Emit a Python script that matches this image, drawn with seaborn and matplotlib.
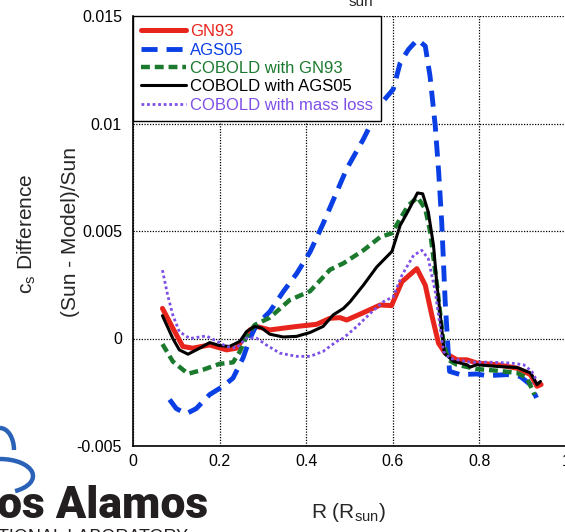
import numpy as np
import pandas as pd
import matplotlib
matplotlib.use("Agg")
import matplotlib.pyplot as plt
from matplotlib.patches import Arc
import seaborn as sns

# ---------------- data ----------------
r_gn93 = [0.068, 0.092, 0.115, 0.138, 0.177, 0.216, 0.239, 0.270, 0.285, 0.316,
          0.378, 0.424, 0.455, 0.478, 0.4935, 0.532, 0.571, 0.597, 0.621, 0.6556,
          0.675, 0.690, 0.7056, 0.721, 0.748, 0.771, 0.794, 0.841, 0.887, 0.918,
          0.933, 0.9425]
cs_gn93 = [0.0014, 0.00048, -0.00037, -0.00045, -0.0003, -0.00053, -0.00045, 0.0004, 0.00056, 0.0004,
           0.00056, 0.00066, 0.00094, 0.00097, 0.00086, 0.0012, 0.00156, 0.00153, 0.00264, 0.00325,
           0.00248, 0.00109, -0.00022, -0.00068, -0.00099, -0.00099, -0.00114, -0.00122, -0.00138, -0.00168,
           -0.00222, -0.00214]

r_ags05 = [0.0845, 0.0999, 0.123, 0.146, 0.177, 0.208, 0.231, 0.254, 0.270, 0.285,
           0.316, 0.347, 0.378, 0.409, 0.439, 0.4935, 0.532, 0.555, 0.578, 0.601,
           0.617, 0.636, 0.657, 0.675, 0.686, 0.698, 0.706, 0.713, 0.721, 0.727,
           0.731, 0.756, 0.794, 0.817, 0.864, 0.894, 0.918, 0.932]
cs_ags05 = [-0.00284, -0.00326, -0.0035, -0.00326, -0.00261, -0.00222, -0.00184, -0.00091, 0.0, 0.00063,
            0.00125, 0.00218, 0.00302, 0.00403, 0.00534, 0.00789, 0.00927, 0.0102, 0.01105, 0.01159,
            0.01282, 0.01344, 0.0139, 0.0136, 0.0122, 0.00989, 0.00773, 0.0054, 0.00171, -0.0003,
            -0.00153, -0.00168, -0.00165, -0.00173, -0.00168, -0.00176, -0.00215, -0.00276]

r_cob_gn93 = [0.068, 0.092, 0.127, 0.162, 0.200, 0.231, 0.247, 0.262, 0.281, 0.316,
              0.362, 0.409, 0.455, 0.486, 0.532, 0.571, 0.598, 0.617, 0.636, 0.657,
              0.675, 0.686, 0.702, 0.717, 0.728, 0.748, 0.794, 0.841, 0.887, 0.910,
              0.927]
cs_cob_gn93 = [-0.00026, -0.00107, -0.00164, -0.00145, -0.00118, -0.00111, -0.0006, 0.00008, 0.00063, 0.00097,
               0.00179, 0.0022, 0.0032, 0.0035, 0.0041, 0.00472, 0.0049, 0.00557, 0.00619, 0.00657,
               0.00603, 0.0050, 0.00248, -0.00019, -0.00099, -0.00122, -0.00142, -0.0015, -0.0016, -0.00184,
               -0.00261]

r_cob_ags05 = [0.068, 0.092, 0.107, 0.127, 0.154, 0.177, 0.200, 0.223, 0.247, 0.262,
               0.281, 0.297, 0.316, 0.347, 0.378, 0.409, 0.439, 0.4625, 0.486, 0.501,
               0.532, 0.563, 0.598, 0.617, 0.636, 0.657, 0.669, 0.682, 0.694, 0.702,
               0.713, 0.719, 0.740, 0.771, 0.779, 0.794, 0.841, 0.887, 0.918, 0.933,
               0.941]
cs_cob_ags05 = [0.00106, 0.0, -0.00053, -0.00073, -0.00045, -0.00019, -0.00033, -0.00037, -0.00013, 0.00032,
                0.00056, 0.00049, 0.0002, 0.00007, 0.0001, 0.00028, 0.00056, 0.0011, 0.0014, 0.0017,
                0.00248, 0.00333, 0.00405, 0.00526, 0.00595, 0.00677, 0.00673, 0.00588, 0.00433, 0.00248,
                0.00048, -0.00068, -0.00106, -0.00122, -0.00133, -0.00122, -0.0013, -0.00135, -0.0016, -0.00214,
                -0.002]

r_mass_loss = [0.068, 0.080, 0.092, 0.107, 0.131, 0.169, 0.192, 0.216, 0.239, 0.262,
               0.285, 0.308, 0.339, 0.378, 0.409, 0.439, 0.470, 0.486, 0.517, 0.548,
               0.578, 0.601, 0.621, 0.648, 0.667, 0.682, 0.698, 0.709, 0.717, 0.732,
               0.779, 0.825, 0.871, 0.902, 0.921, 0.933]
cs_mass_loss = [0.00318, 0.00202, 0.00109, 0.00032, 0.0, 0.00012, -0.00011, -0.00037, -0.00045, 0.00002,
                0.00002, -0.0003, -0.00068, -0.00083, -0.00083, -0.0006, -0.00014, 0.00002, 0.00056, 0.00117,
                0.00171, 0.00194, 0.00294, 0.00387, 0.0041, 0.00371, 0.00218, 0.00058, -0.0006, -0.00093,
                -0.0011, -0.0011, -0.00114, -0.00122, -0.00153, -0.00199]

series_names = ["GN93", "AGS05", "COBOLD with GN93", "COBOLD with AGS05", "COBOLD with mass loss"]
x_ticks = [0, 0.2, 0.4, 0.6, 0.8, 1.0]
x_tick_labels = ["0", "0.2", "0.4", "0.6", "0.8", "1"]
y_ticks = [-0.005, 0, 0.005, 0.01, 0.015]
y_tick_labels = ["-0.005", "0", "0.005", "0.01", "0.015"]

# ---------------- style ----------------
sns.set_style("white")
plt.rcParams['font.family'] = ['Liberation Sans', 'DejaVu Sans']
plt.rcParams['mathtext.default'] = 'regular'

W, H = 565, 532
fig = plt.figure(figsize=(W / 100, H / 100), dpi=100)

# background overlay for logo decorations
bg = fig.add_axes([0, 0, 1, 1])
bg.set_xlim(0, W)
bg.set_ylim(0, H)
bg.axis('off')
logo_blue = '#2a62b8'
bg.add_patch(Arc((0, 82), 28, 44, theta1=0, theta2=90, color=logo_blue, lw=3.2))
bg.add_patch(Arc((0, 56), 66, 34, theta1=-45, theta2=90, color=logo_blue, lw=3.2))

ax = fig.add_axes([133 / W, 86 / H, 433 / W, 430 / H])

styles = [
    dict(color='#e8251c', lw=3.6, ls='-'),
    dict(color='#0b3fe6', lw=3.5, ls=(0, (3.3, 1.85))),
    dict(color='#1b7a2e', lw=3.2, ls=(0, (2.0, 1.1))),
    dict(color='black', lw=2.2, ls='-'),
    dict(color='#7d4fe6', lw=2.0, ls=(0, (1.0, 1.0))),
]
data = [(r_gn93, cs_gn93), (r_ags05, cs_ags05), (r_cob_gn93, cs_cob_gn93),
        (r_cob_ags05, cs_cob_ags05), (r_mass_loss, cs_mass_loss)]

for name, (r, v), st in zip(series_names, data, styles):
    df = pd.DataFrame({"R": r, "cs": v})
    sns.lineplot(data=df, x="R", y="cs", ax=ax, color=st['color'], linewidth=st['lw'],
                 linestyle=st['ls'], label=name, sort=False, estimator=None)

ax.set_xlim(0, 1)
ax.set_ylim(-0.005, 0.015)
ax.set_xticks(x_ticks)
ax.set_xticklabels(x_tick_labels)
ax.set_yticks(y_ticks)
ax.set_yticklabels(y_tick_labels)
ax.set_xlabel("")
ax.set_ylabel("")
ax.tick_params(axis='both', direction='in', length=5, width=1, labelsize=11.5, colors='black')
ax.tick_params(axis='y', pad=8)
ax.tick_params(axis='x', pad=6)
ax.grid(True, color='black', linestyle=(0, (1, 1.2)), linewidth=0.9)
ax.set_axisbelow(True)
for s in ['top', 'right']:
    ax.spines[s].set_visible(False)
for s in ['left', 'bottom']:
    ax.spines[s].set_color('black')
    ax.spines[s].set_linewidth(1.2)

leg = ax.legend(loc='upper left', bbox_to_anchor=(0, 1), borderaxespad=0, frameon=True,
                fancybox=False, edgecolor='black', framealpha=1, fontsize=12,
                handlelength=2.65, handletextpad=0.25, labelspacing=0.2, borderpad=0.5)
leg.get_frame().set_linewidth(1.0)
for text, line in zip(leg.get_texts(), leg.get_lines()):
    text.set_color(line.get_color())

# axis labels
fig.text(27 / W, 1 - 234 / H, "c$_s$ Difference", rotation=90, ha='center', va='center', fontsize=15)
fig.text(70 / W, 1 - 232 / H, "(Sun - Model)/Sun", rotation=90, ha='center', va='center', fontsize=15)
fig.text(348 / W, 1 - 518 / H, "R (R$_{sun}$)", ha='center', va='baseline', fontsize=15)

# cropped title fragment at top
fig.text(361 / W, 1 - 5.5 / H, "sun", ha='center', va='baseline', fontsize=11)

# logo text
fig.text(-3 / W, 1 - 518 / H, "os Alamos", ha='left', va='baseline', fontsize=32,
         fontweight='black', family=['Roboto', 'DejaVu Sans'], color='#231f20')
fig.text(-2 / W, 1 - 529 / H, "TIONAL LABORATORY", ha='left', va='top', fontsize=13,
         color='#231f20')

fig.savefig("out.png", dpi=100)
